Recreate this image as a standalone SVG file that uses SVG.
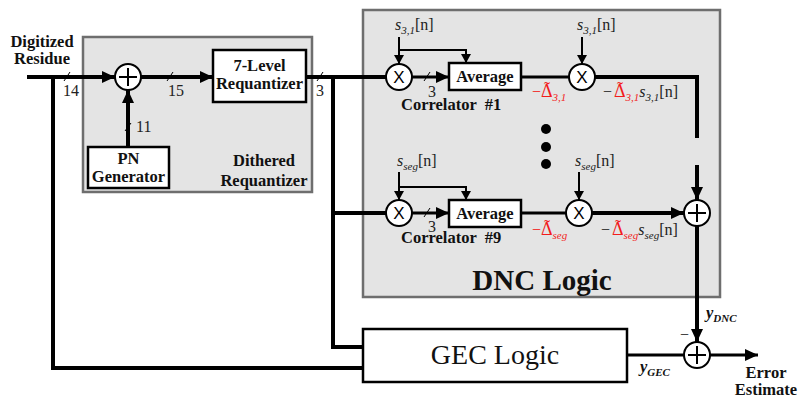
<svg xmlns="http://www.w3.org/2000/svg" width="798" height="400" viewBox="0 0 798 400">
<defs>
<marker id="ah" markerUnits="userSpaceOnUse" markerWidth="14" markerHeight="12" refX="13" refY="6" orient="auto"><path d="M0,0 L13,6 L0,12 Z" fill="#000"/></marker>
<marker id="as" markerUnits="userSpaceOnUse" markerWidth="10" markerHeight="10" refX="9" refY="5" orient="auto"><path d="M0,0 L9,5 L0,10 Z" fill="#000"/></marker>
</defs>
<style>
.grp{fill:#e4e4e4;stroke:#6e6e6e;stroke-width:2.5}
.box{fill:#fff;stroke:#000;stroke-width:2.5}
.node{fill:#fff;stroke:#000;stroke-width:2}
.w{fill:none;stroke:#000;stroke-width:4}
.m{fill:none;stroke:#000;stroke-width:3}
.t{fill:none;stroke:#000;stroke-width:2}
.sl{stroke:#000;stroke-width:1}
.b{font-family:"Liberation Serif","Times New Roman",serif;font-weight:bold;font-size:16.5px;fill:#111}
.r{font-family:"Liberation Serif","Times New Roman",serif;font-size:16px;fill:#222}
.red{fill:#f21c1c}
.x{font-family:"Liberation Sans",Arial,sans-serif;font-size:17px;fill:#000}
.tl{font-family:"Liberation Serif","Times New Roman",serif;font-size:18px;fill:#f21c1c}
</style>
<rect id="dithered-bg" class="grp" x="83" y="37" width="229" height="155"/>
<rect id="dnc-bg" class="grp" x="363" y="10" width="357" height="287"/>

<g id="connectors">
<polyline class="w" points="27,77 115,77" marker-end="url(#ah)"/>
<polyline class="w" points="53,77 53,368 363,368"/>
<polyline class="w" points="141,77 213,77" marker-end="url(#ah)"/>
<polyline class="w" points="128,147 128,90" marker-end="url(#ah)"/>
<polyline class="w" points="306,77 386,77"/>
<polyline class="w" points="333,77 333,347 363,347"/>
<polyline class="w" points="333,213 386,213"/>
<polyline class="m" points="412,77 449,77" marker-end="url(#ah)"/>
<polyline class="t" points="399,37 399,64" marker-end="url(#as)"/>
<polyline class="t" points="399,50 466,50 466,63" marker-end="url(#as)"/>
<polyline class="m" points="521,77 569,77"/>
<polyline class="t" points="582,37 582,64" marker-end="url(#as)"/>
<polyline class="w" points="595,77 697,77 697,138"/>
<polyline class="w" points="697,165 697,200" marker-end="url(#ah)"/>
<polyline class="m" points="412,213 449,213" marker-end="url(#ah)"/>
<polyline class="t" points="399,172 399,200" marker-end="url(#as)"/>
<polyline class="t" points="399,187 466,187 466,200" marker-end="url(#as)"/>
<polyline class="m" points="521,213 566,213"/>
<polyline class="t" points="579,172 579,200" marker-end="url(#as)"/>
<polyline class="w" points="592,213 684,213" marker-end="url(#ah)"/>
<polyline class="w" points="697,226 697,342" marker-end="url(#ah)"/>
<polyline class="m" points="627,355 684,355"/>
<polyline class="m" points="710,355 758,355" marker-end="url(#ah)"/>
<line class="sl" x1="64" y1="81" x2="70" y2="72"/>
<line class="sl" x1="167" y1="81" x2="173" y2="72"/>
<line class="sl" x1="125" y1="131" x2="131" y2="123"/>
<line class="sl" x1="317" y1="81" x2="323" y2="72"/>
<line class="sl" x1="424" y1="81" x2="430" y2="72"/>
<line class="sl" x1="424" y1="217" x2="430" y2="208"/>
</g>

<g id="labels-in">
<text class="b" x="42" y="47" text-anchor="middle">Digitized</text>
<text class="b" x="42" y="64" text-anchor="middle">Residue</text>
<text class="r" x="63" y="96">14</text>
<text class="r" x="168" y="96">15</text>
<text class="r" x="136" y="132">11</text>
<text class="r" x="316" y="96">3</text>
<text class="b" x="264" y="166" text-anchor="middle">Dithered</text>
<text class="b" x="264" y="186" text-anchor="middle">Requantizer</text>
</g>

<g id="adder1"><circle class="node" cx="128" cy="77" r="13"/><path class="t" d="M119,77 H137 M128,68 V86"/></g>
<g id="pn-generator"><rect class="box" x="88" y="147" width="81" height="41"/><text class="b" x="128.5" y="164" text-anchor="middle">PN</text><text class="b" x="128.5" y="182" text-anchor="middle">Generator</text></g>
<g id="requantizer"><rect class="box" x="213" y="50" width="93" height="52"/><text class="b" x="259.5" y="71" text-anchor="middle">7-Level</text><text class="b" x="259.5" y="89" text-anchor="middle">Requantizer</text></g>

<g id="correlator1">
<circle class="node" cx="399" cy="77" r="13"/><text class="x" x="399" y="83" text-anchor="middle">X</text>
<rect class="box" x="449" y="63" width="72" height="27"/><text class="b" x="485" y="82" text-anchor="middle">Average</text>
<text class="r" x="395" y="30"><tspan font-style="italic">s</tspan><tspan font-style="italic" font-size="11" dy="4">3,1</tspan><tspan dy="-4">[n]</tspan></text>
<text class="r" x="428" y="97">3</text>
<text class="b" x="401" y="110" xml:space="preserve">Correlator  #1</text>
</g>
<g id="mult1"><circle class="node" cx="582" cy="77" r="13"/><text class="x" x="582" y="83" text-anchor="middle">X</text>
<text class="r" x="577" y="30"><tspan font-style="italic">s</tspan><tspan font-style="italic" font-size="11" dy="4">3,1</tspan><tspan dy="-4">[n]</tspan></text></g>

<g id="delta-labels">
<text class="r red" x="532" y="97">−<tspan x="541" font-size="18">Δ</tspan><tspan font-style="italic" font-size="11" dy="4">3,1</tspan></text>
<text class="tl" x="547" y="95" text-anchor="middle">˜</text>
<text class="r" x="603" y="97">−<tspan class="red" x="614" font-size="18">Δ</tspan><tspan class="red" font-style="italic" font-size="11" dy="4">3,1</tspan><tspan font-style="italic" dy="-4">s</tspan><tspan font-style="italic" font-size="11" dy="4">3,1</tspan><tspan dy="-4">[n]</tspan></text>
<text class="tl" x="620" y="95" text-anchor="middle">˜</text>
<text class="r red" x="532" y="235">−<tspan x="541" font-size="18">Δ</tspan><tspan font-style="italic" font-size="11" dy="4">seg</tspan></text>
<text class="tl" x="547" y="233" text-anchor="middle">˜</text>
<text class="r" x="601" y="235">−<tspan class="red" x="612" font-size="18">Δ</tspan><tspan class="red" font-style="italic" font-size="11" dy="4">seg</tspan><tspan font-style="italic" dy="-4">s</tspan><tspan font-style="italic" font-size="11" dy="4">seg</tspan><tspan dy="-4">[n]</tspan></text>
<text class="tl" x="618" y="233" text-anchor="middle">˜</text>
</g>

<g id="dots"><circle cx="546" cy="129" r="5"/><circle cx="546" cy="147" r="5"/><circle cx="546" cy="164" r="5"/></g>

<g id="correlator9">
<circle class="node" cx="399" cy="213" r="13"/><text class="x" x="399" y="219" text-anchor="middle">X</text>
<rect class="box" x="449" y="200" width="72" height="27"/><text class="b" x="485" y="219" text-anchor="middle">Average</text>
<text class="r" x="397" y="166"><tspan font-style="italic">s</tspan><tspan font-style="italic" font-size="11" dy="4">seg</tspan><tspan dy="-4">[n]</tspan></text>
<text class="r" x="428" y="232">3</text>
<text class="b" x="401" y="243" xml:space="preserve">Correlator  #9</text>
</g>
<g id="mult9"><circle class="node" cx="579" cy="213" r="13"/><text class="x" x="579" y="219" text-anchor="middle">X</text>
<text class="r" x="575" y="166"><tspan font-style="italic">s</tspan><tspan font-style="italic" font-size="11" dy="4">seg</tspan><tspan dy="-4">[n]</tspan></text></g>

<g id="adder-dnc"><circle class="node" cx="697" cy="213" r="13"/><path class="t" d="M688,213 H706 M697,204 V222"/></g>
<text class="b" x="542" y="290" text-anchor="middle" style="font-size:29px">DNC Logic</text>

<g id="gec-logic"><rect class="box" x="363" y="329" width="264" height="53"/><text x="495" y="364" text-anchor="middle" font-family="Liberation Serif, serif" font-size="28" fill="#111">GEC Logic</text></g>
<g id="adder-out"><circle class="node" cx="697" cy="355" r="13"/><path class="t" d="M688,355 H706 M697,346 V364"/></g>
<text class="r" x="680" y="340">−</text>
<text class="b" x="706" y="318" font-style="italic">y<tspan style="font-size:11px" dy="4">DNC</tspan></text>
<text class="b" x="640" y="372" font-style="italic">y<tspan style="font-size:11px" dy="4">GEC</tspan></text>
<text class="b" x="766" y="378" text-anchor="middle">Error</text>
<text class="b" x="766" y="395" text-anchor="middle">Estimate</text>
</svg>
